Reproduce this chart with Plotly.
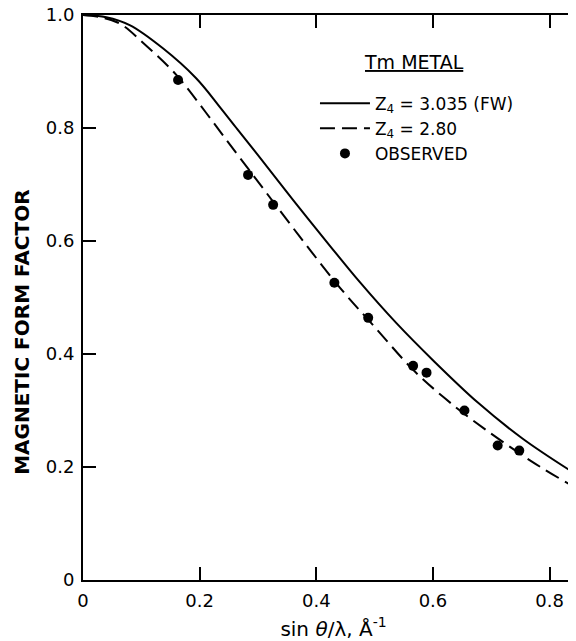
import plotly.graph_objects as go

# Solid curve: Z4 = 3.035 (FW)
fw_x = [0.0, 0.04, 0.08, 0.137, 0.194, 0.234, 0.263, 0.30, 0.36, 0.423, 0.474, 0.537, 0.60, 0.677, 0.754, 0.85]
fw_y = [1.0, 0.996, 0.982, 0.941, 0.888, 0.838, 0.800, 0.752, 0.673, 0.592, 0.528, 0.455, 0.389, 0.314, 0.250, 0.184]

# Dashed curve: Z4 = 2.80
z280_x = [0.0, 0.03, 0.063, 0.108, 0.160, 0.211, 0.240, 0.30, 0.37, 0.44, 0.50, 0.566, 0.62, 0.668, 0.769, 0.85]
z280_y = [1.0, 0.996, 0.985, 0.946, 0.894, 0.827, 0.787, 0.705, 0.610, 0.518, 0.448, 0.372, 0.322, 0.283, 0.210, 0.160]

# Observed points
obs_x = [0.163, 0.283, 0.326, 0.431, 0.489, 0.566, 0.589, 0.654, 0.711, 0.748, 0.846]
obs_y = [0.885, 0.717, 0.664, 0.526, 0.464, 0.379, 0.367, 0.300, 0.238, 0.229, 0.159]

x_ticks = [0, 0.2, 0.4, 0.6, 0.8]
x_tick_labels = ["0", "0.2", "0.4", "0.6", "0.8"]
y_ticks = [0, 0.2, 0.4, 0.6, 0.8, 1.0]
y_tick_labels = ["0", "0.2", "0.4", "0.6", "0.8", "1.0"]

FONT = "DejaVu Sans"

fig = go.Figure()
fig.add_trace(go.Scatter(x=fw_x, y=fw_y, mode="lines", line=dict(color="black", width=2, shape="spline"),
                         name="Z<sub>4</sub> = 3.035 (FW)"))
fig.add_trace(go.Scatter(x=z280_x, y=z280_y, mode="lines",
                         line=dict(color="black", width=2, dash="15px,7px", shape="spline"),
                         name="Z<sub>4</sub> = 2.80"))
fig.add_trace(go.Scatter(x=obs_x, y=obs_y, mode="markers", marker=dict(color="black", size=10),
                         name="OBSERVED"))

fig.update_layout(
    width=576, height=641,
    margin=dict(l=75, r=0, t=7, b=69),
    paper_bgcolor="white", plot_bgcolor="white",
    font=dict(family=FONT, color="black", size=16),
    showlegend=True,
    legend=dict(x=0.463, y=0.875, xanchor="left", yanchor="top", bgcolor="rgba(0,0,0,0)",
                font=dict(family=FONT, size=17, color="black"), tracegroupgap=0, itemwidth=50),
    xaxis=dict(range=[0, 0.859], tickvals=x_ticks, ticktext=x_tick_labels, automargin=False,
               showgrid=False, zeroline=False, showline=True, linecolor="black", linewidth=2,
               mirror="ticks", ticks="inside", ticklen=13, tickwidth=2, tickcolor="black",
               tickfont=dict(size=18), ticklabelstandoff=3, ticklabeloverflow="allow",
               title=dict(text="sin <i>θ</i>/λ, Å<sup>-1</sup>", font=dict(size=20), standoff=12)),
    yaxis=dict(range=[0, 1.0], tickvals=y_ticks, ticktext=y_tick_labels, automargin=False,
               showgrid=False, zeroline=False, showline=True, linecolor="black", linewidth=2,
               mirror="ticks", ticks="inside", ticklen=13, tickwidth=2, tickcolor="black",
               tickfont=dict(size=18), ticklabelstandoff=3, ticklabeloverflow="allow"),
    annotations=[
        dict(text="<u>Tm METAL</u>", xref="paper", yref="paper", x=0.661, y=0.917,
             xanchor="center", yanchor="middle", showarrow=False,
             font=dict(family=FONT, size=19, color="black")),
        dict(text="<b>MAGNETIC FORM FACTOR</b>", xref="paper", yref="paper", x=-0.122, y=0.439,
             xanchor="center", yanchor="middle", textangle=-90, showarrow=False,
             font=dict(family=FONT, size=20, color="black")),
    ],
)

fig.write_html("out.html")
